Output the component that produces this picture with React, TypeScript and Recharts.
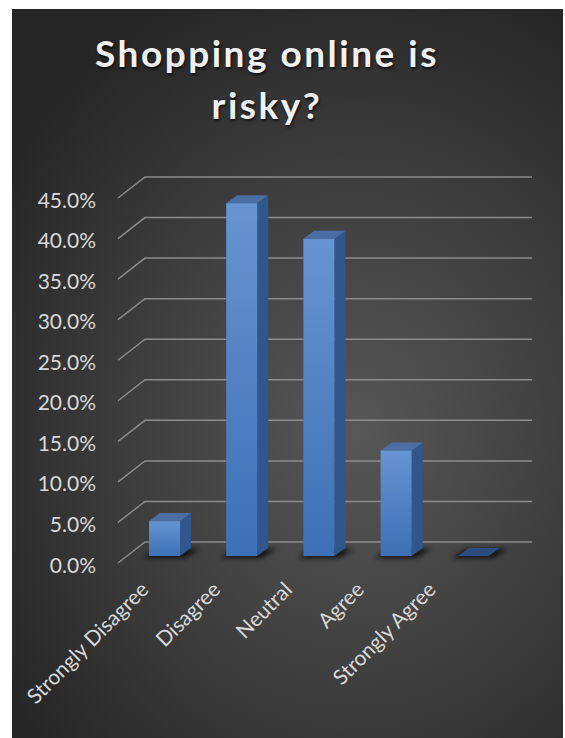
import React from "react";
import { BarChart, Bar, XAxis, YAxis, CartesianGrid } from "recharts";

// Survey answers
const categories = [
  "Strongly Disagree",
  "Disagree",
  "Neutral",
  "Agree",
  "Strongly Agree",
];
const shares = [0.043, 0.435, 0.391, 0.13, 0];
const yTicks = [0, 0.05, 0.1, 0.15, 0.2, 0.25, 0.3, 0.35, 0.4, 0.45];

const data = categories.map((name, i) => ({ name, value: shares[i] }));

const W = 551;
const H = 729;
const DEPTH_X = 11;
const DEPTH_Y = 8;

// front face + side + top, with a soft floor shadow
const Bar3D = (props: any) => {
  const { x, y, width, height, index } = props;
  const bottom = y + height;
  const gid = `front-${index}`;
  const fid = `shade-${index}`;
  const shadow = `M${x - 6},${bottom + 2} L${x + width + 4},${bottom + 2} L${
    x + width + 20
  },${bottom - 7} L${x + 8},${bottom - 7} Z`;
  if (height <= 0.5) {
    return (
      <g>
        <defs>
          <filter id={fid} x="-50%" y="-200%" width="200%" height="500%">
            <feGaussianBlur stdDeviation="2.5" />
          </filter>
        </defs>
        <path d={shadow} fill="#000" opacity={0.75} filter={`url(#${fid})`} />
        <path
          d={`M${x},${bottom} L${x + width},${bottom} L${x + width + DEPTH_X},${
            bottom - DEPTH_Y
          } L${x + DEPTH_X},${bottom - DEPTH_Y} Z`}
          fill="#2c4c7e"
        />
      </g>
    );
  }
  return (
    <g>
      <defs>
        <linearGradient id={gid} x1="0" y1="0" x2="0" y2="1">
          <stop offset="0%" stopColor="#6794d2" />
          <stop offset="100%" stopColor="#3d70b6" />
        </linearGradient>
        <filter id={fid} x="-50%" y="-200%" width="200%" height="500%">
          <feGaussianBlur stdDeviation="2.5" />
        </filter>
      </defs>
      <path d={shadow} fill="#000" opacity={0.75} filter={`url(#${fid})`} />
      <path
        d={`M${x + width},${y} L${x + width + DEPTH_X},${y - DEPTH_Y} L${
          x + width + DEPTH_X
        },${bottom - DEPTH_Y} L${x + width},${bottom} Z`}
        fill="#31568c"
      />
      <path
        d={`M${x},${y} L${x + DEPTH_X},${y - DEPTH_Y} L${x + width + DEPTH_X},${
          y - DEPTH_Y
        } L${x + width},${y} Z`}
        fill="#4b6fa4"
      />
      <rect x={x} y={y} width={width} height={height} fill={`url(#${gid})`} />
    </g>
  );
};

// back-wall gridline with the little floor diagonal in front
const gridLine = (props: any) => {
  const { x1, x2, y1, index } = props;
  return (
    <path
      key={`g-${index}`}
      d={`M${x1 - 8},${y1 + 7} L${x1 + 19},${y1 - 14} L${x2 + 20},${y1 - 14}`}
      fill="none"
      stroke="#8c8c8c"
      strokeWidth={1.5}
    />
  );
};

const YTick = (props: any) => {
  const { x, y, payload } = props;
  return (
    <text
      x={x}
      y={y + 8}
      textAnchor="end"
      dominantBaseline="central"
      fill="#d9d9d9"
      fontSize={21}
      fontFamily="Lato, 'Open Sans', sans-serif"
    >
      {`${(payload.value * 100).toFixed(1)}%`}
    </text>
  );
};

const XTick = (props: any) => {
  const { x, y, payload } = props;
  // labels sit on the front edge of the floor, slightly compressed
  const lx = x * 0.93 - 4;
  const ly = y + 35;
  return (
    <text
      x={lx}
      y={ly}
      textAnchor="end"
      fill="#d9d9d9"
      fontSize={21}
      fontFamily="Lato, 'Open Sans', sans-serif"
      transform={`rotate(-45, ${lx}, ${ly})`}
    >
      {payload.value}
    </text>
  );
};

export default function App() {
  return (
    <div
      style={{
        position: "absolute",
        left: 12,
        top: 9,
        width: W,
        height: H,
        background:
          "radial-gradient(ellipse 75% 65% at 62% 58%, #575757 0%, #3d3d3d 55%, #262626 100%)",
        overflow: "hidden",
      }}
    >
      <div
        style={{
          position: "absolute",
          left: 0,
          top: 18,
          width: 510,
          textAlign: "center",
          color: "#f2f2f2",
          fontFamily: "Lato, 'Open Sans', sans-serif",
          fontWeight: 700,
          fontSize: 37,
          lineHeight: "52px",
          letterSpacing: 2.5,
          textShadow: "1px 2px 3px rgba(0,0,0,0.7)",
        }}
      >
        Shopping online is
        <br />
        risky?
      </div>
      <BarChart
        width={W}
        height={H}
        data={data}
        margin={{ top: 182, right: 51, left: 14, bottom: 32 }}
        barSize={31}
      >
        <CartesianGrid horizontal={gridLine} vertical={false} />
        <XAxis
          dataKey="name"
          axisLine={false}
          tickLine={false}
          tickSize={0}
          tickMargin={0}
          interval={0}
          height={150}
          tick={<XTick />}
        />
        <YAxis
          domain={[0, 0.45]}
          ticks={yTicks}
          axisLine={false}
          tickLine={false}
          tickSize={0}
          tickMargin={30}
          width={100}
          tick={<YTick />}
        />
        <Bar
          dataKey="value"
          shape={<Bar3D />}
          isAnimationActive={false}
        />
      </BarChart>
    </div>
  );
}
